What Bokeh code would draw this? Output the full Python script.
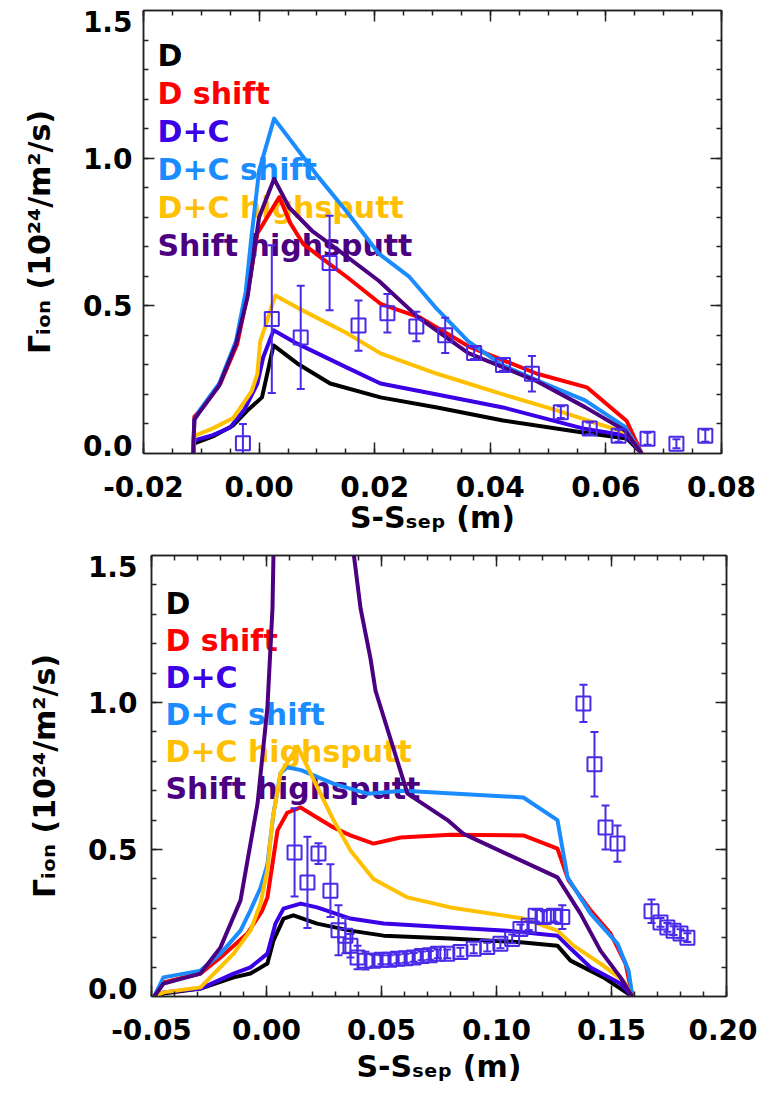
from bokeh.plotting import figure
from bokeh.models import (FixedTicker, LinearAxis, Label, Range1d,
                          PrintfTickFormatter, CustomJSTickFormatter)
from bokeh.embed import file_html
from bokeh.resources import INLINE

# ---------------- series names / colours ----------------
series_names = ["D", "D shift", "D+C", "D+C shift", "D+C highsputt", "Shift highsputt"]
series_colors = ["#000000", "#ff0000", "#3a00e6", "#1a8cff", "#ffc000", "#4b0082"]
obs_color = "#4a2ae8"

y_title = "Γᵢₒₙ (10²⁴/m²/s)"
x_title = "S-Sₛₑₚ (m)"

# ---------------- top panel data ----------------
top_black_x = [-0.0114, -0.0112, -0.0080, -0.0045, -0.0020, 0.0005, 0.0025, 0.0066, 0.0123, 0.0210, 0.0308, 0.0422, 0.0560, 0.0636, 0.0662]
top_black_y = [0.0, 0.034, 0.058, 0.095, 0.146, 0.190, 0.366, 0.305, 0.237, 0.190, 0.156, 0.112, 0.071, 0.051, 0.0]

top_red_x = [-0.0114, -0.0112, -0.0100, -0.0067, -0.0038, -0.0020, -0.0003, 0.0035, 0.0054, 0.0076, 0.0106, 0.0153, 0.0210, 0.0279, 0.0365, 0.0481, 0.0567, 0.0636, 0.0662]
top_red_y = [0.0, 0.125, 0.150, 0.237, 0.370, 0.540, 0.745, 0.868, 0.780, 0.710, 0.665, 0.596, 0.507, 0.460, 0.360, 0.270, 0.224, 0.110, 0.0]

top_dc_x = [-0.0114, -0.0112, -0.0080, -0.0050, -0.0025, -0.0003, 0.0007, 0.0025, 0.0066, 0.0153, 0.0210, 0.0308, 0.0422, 0.0560, 0.0636, 0.0662]
top_dc_y = [0.0, 0.044, 0.062, 0.088, 0.150, 0.237, 0.325, 0.417, 0.372, 0.290, 0.237, 0.200, 0.156, 0.085, 0.060, 0.0]

top_dcs_x = [-0.0114, -0.0112, -0.0103, -0.0069, -0.0040, -0.0023, -0.0014, 0.0000, 0.0026, 0.0064, 0.0103, 0.0150, 0.0207, 0.0259, 0.0305, 0.0362, 0.0420, 0.0495, 0.0564, 0.0633, 0.0662]
top_dcs_y = [0.0, 0.115, 0.146, 0.237, 0.380, 0.550, 0.720, 0.958, 1.134, 1.036, 0.935, 0.823, 0.677, 0.600, 0.495, 0.380, 0.300, 0.236, 0.180, 0.090, 0.0]

top_hs_x = [-0.0114, -0.0112, -0.0080, -0.0045, -0.0013, -0.0003, 0.0002, 0.0028, 0.0066, 0.0153, 0.0210, 0.0308, 0.0422, 0.0515, 0.0595, 0.0636, 0.0662]
top_hs_y = [0.0, 0.060, 0.085, 0.120, 0.210, 0.270, 0.380, 0.535, 0.494, 0.406, 0.339, 0.270, 0.200, 0.146, 0.095, 0.070, 0.0]

top_shs_x = [-0.0114, -0.0112, -0.0103, -0.0069, -0.0040, -0.0020, 0.0000, 0.0026, 0.0052, 0.0091, 0.0138, 0.0207, 0.0276, 0.0362, 0.0478, 0.0564, 0.0633, 0.0662]
top_shs_y = [0.0, 0.115, 0.140, 0.230, 0.370, 0.530, 0.800, 0.930, 0.833, 0.755, 0.687, 0.585, 0.460, 0.340, 0.247, 0.157, 0.078, 0.0]

top_obs_x = [-0.0028, 0.0022, 0.0072, 0.0122, 0.0172, 0.0222, 0.0272, 0.0322, 0.0372, 0.0422, 0.0472, 0.0522, 0.0572, 0.0622, 0.0672, 0.0722, 0.0772]
top_obs_y = [0.035, 0.455, 0.393, 0.645, 0.433, 0.475, 0.430, 0.400, 0.340, 0.300, 0.270, 0.140, 0.085, 0.060, 0.050, 0.033, 0.060]
top_obs_err = [0.065, 0.250, 0.175, 0.160, 0.085, 0.065, 0.050, 0.060, 0.020, 0.020, 0.060, 0.020, 0.020, 0.020, 0.020, 0.015, 0.020]

top_xticks = [-0.02, 0.0, 0.02, 0.04, 0.06, 0.08]
top_xminor_step = 0.005

# ---------------- bottom panel data ----------------
bot_black_x = [-0.0488, -0.0448, -0.0287, -0.0143, -0.0070, 0.0004, 0.0030, 0.0074, 0.0117, 0.0220, 0.0365, 0.0509, 0.0800, 0.1117, 0.1265, 0.1322, 0.1465, 0.1591]
bot_black_y = [0.0, 0.010, 0.027, 0.065, 0.078, 0.112, 0.190, 0.265, 0.276, 0.248, 0.224, 0.207, 0.197, 0.184, 0.173, 0.122, 0.065, 0.0]

bot_red_x = [-0.0488, -0.0448, -0.0287, -0.0200, -0.0083, -0.0020, 0.0004, 0.0048, 0.0090, 0.0148, 0.0291, 0.0365, 0.0465, 0.0583, 0.0800, 0.1117, 0.1265, 0.1313, 0.1409, 0.1496, 0.1561, 0.1591]
bot_red_y = [0.0, 0.048, 0.078, 0.133, 0.214, 0.290, 0.337, 0.565, 0.625, 0.643, 0.575, 0.548, 0.520, 0.541, 0.550, 0.548, 0.503, 0.395, 0.293, 0.214, 0.112, 0.0]

bot_dc_x = [-0.0488, -0.0448, -0.0287, -0.0143, -0.0070, 0.0004, 0.0039, 0.0074, 0.0148, 0.0220, 0.0365, 0.0509, 0.0800, 0.1048, 0.1265, 0.1322, 0.1409, 0.1539, 0.1591]
bot_dc_y = [0.0, 0.014, 0.027, 0.078, 0.099, 0.146, 0.248, 0.299, 0.316, 0.303, 0.265, 0.248, 0.235, 0.224, 0.207, 0.163, 0.099, 0.044, 0.0]

bot_dcs_x = [-0.0488, -0.0448, -0.0287, -0.0200, -0.0113, -0.0070, -0.0026, 0.0004, 0.0030, 0.0061, 0.0090, 0.0150, 0.0291, 0.0439, 0.0596, 0.1117, 0.1265, 0.1309, 0.1409, 0.1526, 0.1574, 0.1591]
bot_dcs_y = [0.0, 0.065, 0.088, 0.146, 0.224, 0.293, 0.370, 0.450, 0.620, 0.760, 0.780, 0.770, 0.724, 0.690, 0.700, 0.677, 0.600, 0.405, 0.282, 0.180, 0.088, 0.0]

bot_hs_x = [-0.0488, -0.0448, -0.0287, -0.0143, -0.0070, -0.0026, 0.0004, 0.0026, 0.0061, 0.0135, 0.0191, 0.0291, 0.0365, 0.0465, 0.0613, 0.0800, 0.1117, 0.1265, 0.1335, 0.1452, 0.1552, 0.1591]
bot_hs_y = [0.0, 0.014, 0.031, 0.146, 0.224, 0.316, 0.430, 0.600, 0.760, 0.850, 0.760, 0.600, 0.497, 0.400, 0.337, 0.303, 0.265, 0.224, 0.173, 0.112, 0.054, 0.0]

bot_shs_x = [-0.0488, -0.0448, -0.0287, -0.0200, -0.0113, -0.0039, 0.0004, 0.0026, 0.0035, 0.0200, 0.0335, 0.0409, 0.0452, 0.0474, 0.0613, 0.0787, 0.0857, 0.1265, 0.1365, 0.1452, 0.1539, 0.1591]
bot_shs_y = [0.0, 0.044, 0.078, 0.167, 0.327, 0.656, 0.983, 1.320, 1.700, 2.600, 1.780, 1.320, 1.150, 1.040, 0.690, 0.600, 0.553, 0.405, 0.282, 0.156, 0.065, 0.0]

bot_obs_x = [0.0122, 0.0178, 0.0226, 0.0278, 0.0313, 0.0343, 0.0365, 0.0396, 0.0430,
             0.0465, 0.0500, 0.0535, 0.0570, 0.0605, 0.0640, 0.0675, 0.0710, 0.0745,
             0.0786, 0.0843, 0.0901, 0.0960, 0.1017, 0.1068, 0.1104, 0.1140, 0.1170, 0.1206, 0.1249, 0.1286,
             0.1378, 0.1426, 0.1474, 0.1526,
             0.1674, 0.1713, 0.1743, 0.1770, 0.1800, 0.1830]
bot_obs_y = [0.490, 0.388, 0.486, 0.360, 0.225, 0.207, 0.173, 0.133, 0.122,
             0.122, 0.125, 0.125, 0.128, 0.130, 0.133, 0.138, 0.140, 0.145,
             0.145, 0.151, 0.162, 0.168, 0.179, 0.196, 0.230, 0.241, 0.275, 0.270, 0.275, 0.270,
             0.997, 0.790, 0.575, 0.520,
             0.290, 0.252, 0.235, 0.224, 0.214, 0.200]
bot_obs_err = [0.150, 0.155, 0.035, 0.090, 0.085, 0.060, 0.040, 0.040, 0.030,
               0.020, 0.015, 0.015, 0.015, 0.015, 0.015, 0.015, 0.015, 0.015,
               0.015, 0.015, 0.015, 0.015, 0.015, 0.015, 0.015, 0.015, 0.020, 0.020, 0.020, 0.040,
               0.063, 0.110, 0.075, 0.062,
               0.040, 0.015, 0.015, 0.015, 0.015, 0.015]

bot_xticks = [-0.05, 0.0, 0.05, 0.10, 0.15, 0.20]
bot_xminor_step = 0.01

y_tick_marks = [0.5, 1.0]
y_minor_step = 0.1
# y labels: the end labels 0.0 and 1.5 sit just inside the frame, as in the original
y_label_positions = [0.027, 0.5, 1.0, 1.464]

SANS = "DejaVu Sans"

END_LABELS = CustomJSTickFormatter(code="""
    if (tick < 0.1) { return "0.0"; }
    if (tick > 1.4) { return "1.5"; }
    return tick.toFixed(1);
""")


def style_axis(ax, label_size="28px", standoff=10):
    ax.major_tick_in = 11
    ax.major_tick_out = 0
    ax.minor_tick_in = 5
    ax.minor_tick_out = 0
    ax.major_tick_line_width = 1.5
    ax.minor_tick_line_width = 1.5
    ax.major_tick_line_color = "#222222"
    ax.minor_tick_line_color = "#222222"
    ax.axis_line_width = 1.5
    ax.axis_line_color = "#222222"
    ax.major_label_text_font = SANS
    ax.major_label_text_font_style = "bold"
    ax.major_label_text_font_size = label_size
    ax.major_label_text_color = "black"
    ax.major_label_standoff = standoff
    ax.axis_label_text_font = SANS
    ax.axis_label_text_font_style = "bold"
    ax.axis_label_text_font_size = "30px"
    ax.axis_label_text_color = "black"


def make_panel(width, height, bl, br, bt, bb, xr, xticks, xstep, lines, ox, oy, oe,
               leg_y0, leg_dy, ystand, ylab_standoff, xlab_standoff):
    p = figure(width=width, height=height, output_backend="svg", toolbar_location=None,
               x_range=Range1d(*xr), y_range=Range1d(0.0, 1.5),
               x_axis_type=None, y_axis_type=None,
               min_border_left=bl, min_border_right=br, min_border_top=bt, min_border_bottom=bb)
    p.grid.visible = False
    p.outline_line_color = "#222222"
    p.outline_line_width = 1.5
    p.background_fill_color = "white"
    p.border_fill_color = "white"

    n_minor = int(round((xr[1] - xr[0]) / xstep))
    xminor = [xr[0] + i * xstep for i in range(n_minor + 1)]
    xt = FixedTicker(ticks=xticks, minor_ticks=xminor)
    yminor = [i * y_minor_step for i in range(1, 15)]
    yt = FixedTicker(ticks=y_tick_marks, minor_ticks=yminor)

    # bottom axis: ticks, labels, title
    bx = LinearAxis(ticker=xt, formatter=PrintfTickFormatter(format="%.2f"),
                    axis_label=x_title)
    style_axis(bx, standoff=22)
    bx.axis_label_standoff = xlab_standoff
    p.add_layout(bx, "below")
    # top axis: ticks only
    tx = LinearAxis(ticker=xt, formatter=CustomJSTickFormatter(code="return ''"))
    style_axis(tx, label_size="0px", standoff=0)
    p.add_layout(tx, "above")
    # left: inner axis with tick marks, outer axis with the labels and title
    ly = LinearAxis(ticker=yt, formatter=CustomJSTickFormatter(code="return ''"))
    style_axis(ly, label_size="0px", standoff=0)
    p.add_layout(ly, "left")
    ll = LinearAxis(ticker=FixedTicker(ticks=y_label_positions, minor_ticks=[]),
                    formatter=END_LABELS, axis_label=y_title)
    style_axis(ll, standoff=ystand)
    ll.major_tick_in = 0
    ll.minor_tick_in = 0
    ll.major_tick_line_color = None
    ll.minor_tick_line_color = None
    ll.axis_line_color = None
    ll.axis_label_standoff = ylab_standoff
    p.add_layout(ll, "left")
    # right axis: ticks only
    ry = LinearAxis(ticker=yt, formatter=CustomJSTickFormatter(code="return ''"))
    style_axis(ry, label_size="0px", standoff=0)
    p.add_layout(ry, "right")

    # legend texts (drawn under the curves)
    for i, (name, col) in enumerate(zip(series_names, series_colors)):
        p.add_layout(Label(x=14, y=leg_y0 - i * leg_dy, x_units="screen", y_units="screen",
                           text=name, text_color=col, text_font=SANS,
                           text_font_style="bold", text_font_size="30px",
                           text_baseline="alphabetic", level="underlay"))

    # curves
    for (xs, ys), col in zip(lines, series_colors):
        p.line(xs, ys, line_color=col, line_width=4, line_join="round")

    # observations with error bars
    lo = [y - e for y, e in zip(oy, oe)]
    hi = [y + e for y, e in zip(oy, oe)]
    p.segment(x0=ox, y0=lo, x1=ox, y1=hi, line_color=obs_color, line_width=2)
    p.scatter(ox, lo, marker="dash", size=8, line_color=obs_color, line_width=2)
    p.scatter(ox, hi, marker="dash", size=8, line_color=obs_color, line_width=2)
    p.scatter(ox, oy, marker="square", size=14, fill_color=None,
              line_color=obs_color, line_width=2)
    return p


top_lines = [(top_black_x, top_black_y), (top_red_x, top_red_y), (top_dc_x, top_dc_y),
             (top_dcs_x, top_dcs_y), (top_hs_x, top_hs_y), (top_shs_x, top_shs_y)]
bot_lines = [(bot_black_x, bot_black_y), (bot_red_x, bot_red_y), (bot_dc_x, bot_dc_y),
             (bot_dcs_x, bot_dcs_y), (bot_hs_x, bot_hs_y), (bot_shs_x, bot_shs_y)]

p1 = make_panel(757, 540, 143, 36, 10, 87, (-0.02, 0.08), top_xticks, top_xminor_step,
                top_lines, top_obs_x, top_obs_y, top_obs_err,
                398, 38, 11, 23, 0)
p2 = make_panel(757, 559, 151, 31, 15, 103, (-0.05, 0.20), bot_xticks, bot_xminor_step,
                bot_lines, bot_obs_x, bot_obs_y, bot_obs_err,
                393, 37, 14, 23, 6)

open("out.html", "w").write(file_html([p1, p2], INLINE))
